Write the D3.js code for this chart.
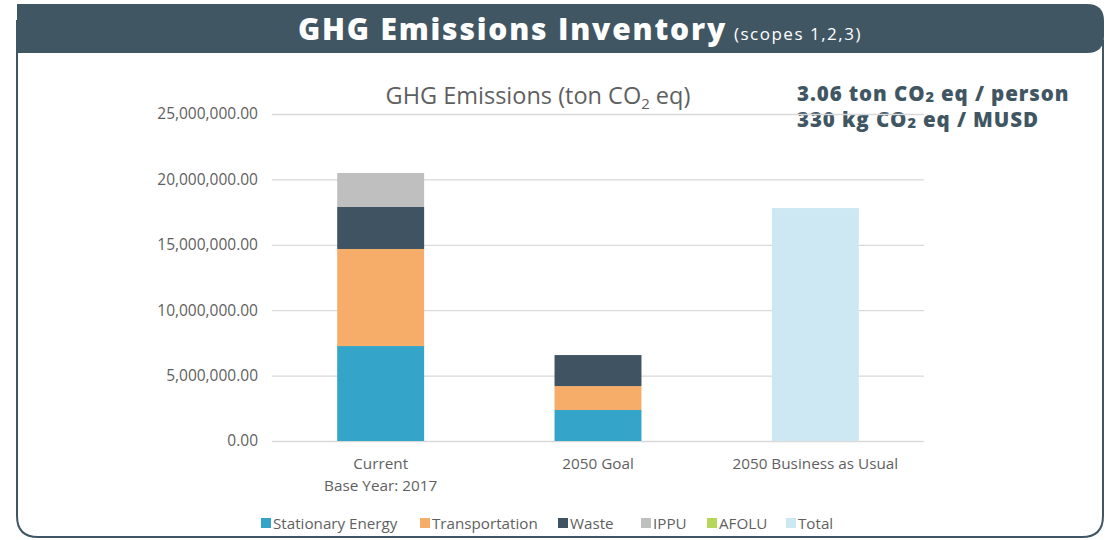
<!DOCTYPE html>
<html>
<head>
<meta charset="utf-8">
<script src="https://cdn.jsdelivr.net/npm/d3@7"></script>
<style>
  body { margin: 0; background: #fff; }
  svg text { font-family: "Open Sans", sans-serif; }
</style>
</head>
<body>
<svg width="1114" height="540"></svg>
<script>
// data (ton CO2 eq)
const categories = ["Current|Base Year: 2017", "2050 Goal", "2050 Business as Usual"];
const stationary = [7260000, 2370000, 0];
const transport = [7420000, 1830000, 0];
const waste = [3210000, 2370000, 0];
const ippu = [2600000, 0, 0];
const afolu = [0, 0, 0];
const total = [0, 0, 17810000];
const yTicks = [0, 5000000, 10000000, 15000000, 20000000, 25000000];

const series = ["Stationary Energy", "Transportation", "Waste", "IPPU", "AFOLU", "Total"];
const colors = ["#35a4c9", "#f5ad69", "#3f5363", "#bfbfbf", "#b6d75a", "#cde8f3"];
const dark = "#415663";
const grey = "#5f5f5f";

const svg = d3.select("svg");

// frame
svg.append("path")
    .attr("d", "M17,20 L17,516 Q17,537 38,537 L1082,537 Q1103,537 1103,516 L1103,40")
    .attr("fill", "none")
    .attr("stroke", dark)
    .attr("stroke-width", 2);

// header bar
svg.append("path")
    .attr("d", "M17,4 L1087,4 Q1104,4 1104,21 L1104,36 Q1104,53 1087,53 L17,53 Z")
    .attr("fill", dark);

const head = svg.append("text")
    .attr("x", 580).attr("y", 40)
    .attr("text-anchor", "middle")
    .attr("fill", "#fff");
head.append("tspan")
    .attr("font-weight", 800)
    .attr("font-size", 30)
    .attr("letter-spacing", 1.8)
    .text("GHG Emissions Inventory");
head.append("tspan")
    .attr("font-size", 17)
    .attr("letter-spacing", 1.5)
    .attr("dx", 7)
    .text("(scopes 1,2,3)");

// intensity notes
const note = svg.append("g").attr("fill", dark);
[["3.06 ton CO", "2", " eq / person", 101], ["330 kg CO", "2", " eq / MUSD", 127]].forEach(function (l) {
    const t = note.append("text")
        .attr("x", 797).attr("y", l[3])
        .attr("font-size", 20.5)
        .attr("font-weight", 800)
        .attr("letter-spacing", 0.9);
    t.append("tspan").text(l[0]);
    t.append("tspan").attr("font-size", 14.5).attr("dy", 1).text(l[1]);
    t.append("tspan").attr("dy", -1).text(l[2]);
});

// chart
const x = d3.scaleBand()
    .domain(categories)
    .range([272, 924])
    .paddingInner(0.6)
    .paddingOuter(0.3);

const y = d3.scaleLinear()
    .domain([0, 25000000])
    .range([441, 114]);

const yAxis = svg.append("g")
    .attr("transform", "translate(272,0)")
    .call(d3.axisLeft(y).tickValues(yTicks).tickSize(-652).tickPadding(14)
        .tickFormat(d3.format(",.2f")));
yAxis.select(".domain").remove();
yAxis.selectAll("line").attr("stroke", "#d9d9d9").attr("stroke-width", 1.3);
yAxis.selectAll("text")
    .attr("fill", grey)
    .attr("font-size", 15.5)
    .attr("font-family", "Open Sans, sans-serif");

const table = categories.map(function (c, i) {
    return {
        cat: c,
        "Stationary Energy": stationary[i],
        "Transportation": transport[i],
        "Waste": waste[i],
        "IPPU": ippu[i],
        "AFOLU": afolu[i],
        "Total": total[i]
    };
});
const stacked = d3.stack().keys(series)(table);

svg.append("g").selectAll("g")
    .data(stacked)
    .join("g")
    .attr("fill", function (d, i) { return colors[i]; })
    .selectAll("rect")
    .data(function (d) { return d; })
    .join("rect")
    .attr("x", function (d) { return x(d.data.cat); })
    .attr("width", x.bandwidth())
    .attr("y", function (d) { return y(d[1]); })
    .attr("height", function (d) { return y(d[0]) - y(d[1]); });

// x labels
categories.forEach(function (c) {
    c.split("|").forEach(function (line, j) {
        svg.append("text")
            .attr("x", x(c) + x.bandwidth() / 2)
            .attr("y", 469 + j * 22)
            .attr("text-anchor", "middle")
            .attr("fill", grey)
            .attr("font-size", 15.3)
            .text(line);
    });
});

// chart title
const title = svg.append("text")
    .attr("x", 538).attr("y", 104)
    .attr("text-anchor", "middle")
    .attr("fill", grey)
    .attr("font-size", 23.5);
title.append("tspan").text("GHG Emissions (ton CO");
title.append("tspan").attr("font-size", 15).attr("dy", 5).text("2");
title.append("tspan").attr("dy", -5).text(" eq)");

// legend
const legendX = [261, 420, 558, 641, 707, 786];
const legend = svg.append("g").selectAll("g")
    .data(series)
    .join("g")
    .attr("transform", function (d, i) { return "translate(" + legendX[i] + ",523)"; });
legend.append("rect")
    .attr("x", 0).attr("y", -5)
    .attr("width", 10).attr("height", 10)
    .attr("fill", function (d, i) { return colors[i]; });
legend.append("text")
    .attr("x", 12).attr("y", 5.5)
    .attr("fill", grey)
    .attr("font-size", 15.2)
    .text(function (d) { return d; });
</script>
</body>
</html>
